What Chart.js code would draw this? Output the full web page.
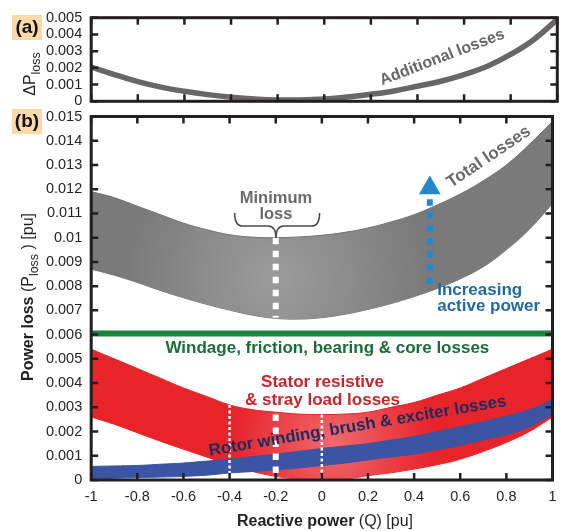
<!DOCTYPE html>
<html><head><meta charset="utf-8">
<script src="https://cdn.jsdelivr.net/npm/chart.js@4.4.0/dist/chart.umd.min.js"></script>
<style>
html,body{margin:0;padding:0;background:#fff;}
#wrap{position:relative;width:565px;height:531px;}
canvas{position:absolute;left:0;top:0;}
</style></head><body>
<div id="wrap"><canvas id="ca" width="565" height="531"></canvas><canvas id="cb" width="565" height="531"></canvas></div>
<script>
// ---------- data ----------
const Q = [-1,-0.9,-0.8,-0.7,-0.6,-0.5,-0.4,-0.3,-0.2,-0.1,0,0.1,0.2,0.3,0.4,0.5,0.6,0.7,0.8,0.9,1];
const additionalLosses = [0.00205,0.0016,0.00118,0.00085,0.0006,0.0004,0.00025,0.00014,0.00008,0.00008,0.00014,0.00026,0.00042,0.00062,0.0009,0.0012,0.0016,0.0021,0.0028,0.0037,0.0049];
const totalLossTop = [0.0119,0.01165,0.0113,0.01095,0.0106,0.01033,0.01012,0.01002,0.01,0.01003,0.0101,0.01022,0.0104,0.01065,0.01095,0.01135,0.0118,0.01235,0.013,0.01385,0.0148];
const totalLossBottom = [0.0087,0.00845,0.00815,0.00782,0.00752,0.00725,0.00701,0.0068,0.00667,0.00664,0.0067,0.00684,0.00704,0.00728,0.00757,0.0079,0.0083,0.0088,0.0095,0.01035,0.0114];
const statorTop = [0.0054,0.0050,0.0046,0.0042,0.0038,0.00345,0.0031,0.0029,0.0028,0.00272,0.0027,0.00272,0.0028,0.0030,0.0032,0.0035,0.0038,0.0042,0.0046,0.0050,0.0054];
const statorBottom = [0.0026,0.0023,0.00195,0.0016,0.00127,0.00095,0.00062,0.00035,0.00015,0.00004,0,0.00004,0.00018,0.0003,0.00045,0.00063,0.00086,0.00118,0.00155,0.002,0.0026];
const rotorTop = [0.00056,0.00058,0.0006,0.00065,0.0007,0.00078,0.00086,0.00096,0.00107,0.00118,0.0013,0.0014,0.0015,0.00165,0.0018,0.002,0.0022,0.0024,0.00264,0.0029,0.0033];
const rotorBottom = [0.00004,0.00007,0.0001,0.00012,0.00015,0.0002,0.00029,0.00035,0.00042,0.0005,0.0006,0.0007,0.00083,0.00095,0.00107,0.00125,0.00143,0.00165,0.00187,0.0022,0.0027];
const mechQ = [-1, 1];
const mechLoss = [0.00605, 0.00605];
const minLossQ = -0.2;
const minDashTotal = [0.0100, 0.0067];
const minDashStator = [0.0027, 0];
const dotQ = [-0.4, 0];
const dotStator = [[0.0031, 0], [0.0027, 0]];
const arrowQ = 0.468;
const arrowShaft = [0.0081, 0.0117];
const arrowTip = 0.01205;
const xTicks = [-1,-0.8,-0.6,-0.4,-0.2,0,0.2,0.4,0.6,0.8,1];
const yTicksA = [0,0.001,0.002,0.003,0.004,0.005];
const yTicksB = [0,0.001,0.002,0.003,0.004,0.005,0.006,0.007,0.008,0.009,0.01,0.011,0.012,0.013,0.014,0.015];

// ---------- helpers ----------
const fam = '"Liberation Sans", Arial, Helvetica, sans-serif';
Chart.defaults.font.family = fam;
Chart.defaults.color = '#231f20';
const pts = (xs, ys) => xs.map((x,i)=>({x, y: ys[i]}));
const fmt = v => String(+Number(v).toFixed(3));
const fmtX = v => String(+Number(v).toFixed(1));

function txt(ctx, s, x, y, o){
  ctx.save(); ctx.translate(x,y); ctx.rotate((o.angle||0)*Math.PI/180);
  ctx.font = o.font; ctx.fillStyle = o.color; ctx.textAlign = o.align||'center'; ctx.textBaseline = 'middle';
  ctx.fillText(s,0,0); ctx.restore();
}
function mixed(ctx, parts, x, y, angle){
  ctx.save(); ctx.translate(x,y); ctx.rotate(angle*Math.PI/180);
  ctx.textBaseline='alphabetic'; ctx.textAlign='left';
  let w=0; for(const p of parts){ctx.font=p.font; w+=ctx.measureText(p.t).width;}
  let cx=-w/2;
  for(const p of parts){ctx.font=p.font; ctx.fillStyle='#231f20'; ctx.fillText(p.t,cx,p.dy||0); cx+=ctx.measureText(p.t).width;}
  ctx.restore();
}
function radial(q0, v0, r, inner, outer){
  return (c) => {
    const ch = c.chart; if(!ch.chartArea) return outer;
    const x = ch.scales.x.getPixelForValue(q0), y = ch.scales.y.getPixelForValue(v0);
    const g = ch.ctx.createRadialGradient(x,y,0,x,y,r);
    g.addColorStop(0, inner); g.addColorStop(1, outer); return g;
  };
}

const framePlugin = {
  id:'frame',
  afterDatasetsDraw(chart){
    const {ctx, chartArea:{left,right,top,bottom}, scales:{x,y}} = chart;
    ctx.save();
    ctx.strokeStyle='#231f20'; ctx.lineWidth=2.5;
    ctx.beginPath();
    for(const v of xTicks){ const p=x.getPixelForValue(v); ctx.moveTo(p,bottom); ctx.lineTo(p,bottom-7); ctx.moveTo(p,top); ctx.lineTo(p,top+7); }
    for(const t of y.ticks){ const p=y.getPixelForValue(t.value); ctx.moveTo(left,p); ctx.lineTo(left+7,p); ctx.moveTo(right,p); ctx.lineTo(right-7,p); }
    ctx.stroke();
    ctx.lineWidth=3; ctx.strokeRect(left,top,right-left,bottom-top);
    ctx.restore();
  }
};

function panelTag(ctx, s, x, y){
  ctx.save(); ctx.fillStyle='#fcd9a8'; ctx.fillRect(x, y, 30, 25);
  ctx.font = `bold 19px ${fam}`; ctx.fillStyle='#111'; ctx.textAlign='center'; ctx.textBaseline='middle';
  ctx.fillText(s, x+15, y+13); ctx.restore();
}

const labelsA = [
  {t:'Additional losses', q:0.506, v:0.00262, angle:-21, font:`bold 16px ${fam}`, color:'#676767'}
];
const labelsB = [
  {t:'Total losses', q:0.724, v:0.01333, angle:-34, font:`bold 17px ${fam}`, color:'#6a6a6a'},
  {t:'Minimum', q:-0.199, v:0.0116, font:`bold 16.5px ${fam}`, color:'#6a6a6a'},
  {t:'loss', q:-0.199, v:0.01094, font:`bold 16.5px ${fam}`, color:'#6a6a6a'},
  {t:'Windage, friction, bearing & core losses', q:0.024, v:0.00545, font:`bold 17px ${fam}`, color:'#1b6d38'},
  {t:'Stator resistive', q:0.003, v:0.00402, font:`bold 17px ${fam}`, color:'#c7252c'},
  {t:'& stray load losses', q:0.003, v:0.0033, font:`bold 17px ${fam}`, color:'#c7252c'},
  {t:'Rotor winding, brush & exciter losses', q:0.155, v:0.00222, angle:-9.5, font:`bold 16.8px ${fam}`, color:'#1d2b5e'},
  {t:'Increasing', q:0.5, v:0.00784, align:'left', font:`bold 17px ${fam}`, color:'#1f6aa5'},
  {t:'active power', q:0.5, v:0.00715, align:'left', font:`bold 17px ${fam}`, color:'#1f6aa5'}
];

const labelPluginA = {
  id:'labA',
  afterDraw(chart){
    const {ctx, scales:{x,y}} = chart;
    for(const l of labelsA) txt(ctx, l.t, x.getPixelForValue(l.q), y.getPixelForValue(l.v), l);
    panelTag(ctx, '(a)', 12, 15);
    mixed(ctx, [{t:'ΔP', font:`16px ${fam}`}, {t:'loss', font:`12.5px ${fam}`, dy:5}], 35, 74, -90);
  }
};
const labelPluginB = {
  id:'labB',
  afterDraw(chart){
    const {ctx, scales:{x,y}} = chart;
    for(const l of labelsB) txt(ctx, l.t, x.getPixelForValue(l.q), y.getPixelForValue(l.v), l);
    const L=x.getPixelForValue(-0.378), R=x.getPixelForValue(-0.01), C=x.getPixelForValue(-0.199);
    const yT=y.getPixelForValue(0.01102), yM=y.getPixelForValue(0.01048), yP=y.getPixelForValue(0.00999);
    ctx.save(); ctx.strokeStyle='#4a4a4a'; ctx.lineWidth=1.6; ctx.beginPath();
    ctx.moveTo(L,yT); ctx.quadraticCurveTo(L,yM,L+8,yM); ctx.lineTo(C-8,yM); ctx.quadraticCurveTo(C,yM,C,yP);
    ctx.moveTo(R,yT); ctx.quadraticCurveTo(R,yM,R-8,yM); ctx.lineTo(C+8,yM); ctx.quadraticCurveTo(C,yM,C,yP);
    ctx.stroke(); ctx.restore();
    panelTag(ctx, '(b)', 12, 109);
    mixed(ctx, [{t:'Power loss', font:`bold 16px ${fam}`}, {t:' (P', font:`16px ${fam}`}, {t:'loss', font:`12.5px ${fam}`, dy:5}, {t:' ) [pu]', font:`16px ${fam}`}], 33, 297, -90);
    mixed(ctx, [{t:'Reactive power', font:`bold 16px ${fam}`}, {t:' (Q) [pu]', font:`16px ${fam}`}], 325, 526, 0);
  }
};

const noLegend = {legend:{display:false}, tooltip:{enabled:false}};
const yAxis = (ticksArr, max) => ({
  type:'linear', min:0, max,
  afterBuildTicks: s => { s.ticks = ticksArr.map(v=>({value:v})); },
  afterFit: s => { s.width = 91.2; },
  grid:{display:false, drawTicks:false}, border:{display:false},
  ticks:{padding:9, font:{size:14.5}, color:'#231f20', autoSkip:false, callback: v => fmt(v)}
});

// ---------- panel (a) ----------
new Chart(document.getElementById('ca'), {
  type:'line',
  data:{datasets:[{data: pts(Q, additionalLosses), borderColor:'#676767', borderWidth:5.5, pointRadius:0, tension:0.4, fill:false, clip:0}]},
  options:{
    responsive:false, animation:false,
    layout:{padding:{left:0, top:14.2, right:7.7, bottom:531-101.3}},
    scales:{
      x:{type:'linear', min:-1, max:1, display:false},
      y: yAxis(yTicksA, 0.005)
    },
    plugins: noLegend
  },
  plugins:[framePlugin, labelPluginA]
});

// ---------- panel (b) ----------
const band = (arr, color, extra) => Object.assign({data: pts(Q, arr), pointRadius:0, borderWidth:1, borderColor:color, tension:0.4}, extra||{});
new Chart(document.getElementById('cb'), {
  type:'line',
  data:{datasets:[
    {data:[{x:minLossQ,y:minDashTotal[0]},{x:minLossQ,y:minDashTotal[1]}], borderColor:'#ffffff', borderWidth:6, borderDash:[6.5,6.5], pointRadius:0, fill:false, order:0},
    {data:[{x:minLossQ,y:minDashStator[0]},{x:minLossQ,y:minDashStator[1]}], borderColor:'#ffffff', borderWidth:6, borderDash:[6.5,6.5], pointRadius:0, fill:false, order:0},
    {data:[{x:dotQ[0],y:dotStator[0][0]},{x:dotQ[0],y:dotStator[0][1]}], borderColor:'#ffffff', borderWidth:2.5, borderDash:[3,2.5], pointRadius:0, fill:false, order:0},
    {data:[{x:dotQ[1],y:dotStator[1][0]},{x:dotQ[1],y:dotStator[1][1]}], borderColor:'#ffffff', borderWidth:2.5, borderDash:[3,2.5], pointRadius:0, fill:false, order:0},
    {data:[{x:arrowQ,y:arrowShaft[0]},{x:arrowQ,y:arrowShaft[1]}], borderColor:'#2389cb', borderWidth:6, borderDash:[6.5,6.5], pointRadius:0, fill:false, order:0},
    {data:[{x:arrowQ,y:arrowTip}], showLine:false, pointStyle:'triangle', pointRadius:12.5, pointBackgroundColor:'#2389cb', pointBorderWidth:0, order:0},
    band(rotorTop, '#3b54a4', {fill:'+1', backgroundColor:'#3b54a4', order:1}),
    band(rotorBottom, '#3b54a4', {fill:false, order:1}),
    band(statorTop, '#e6232a', {fill:'+1', backgroundColor: radial(0.05, 0.0015, 100, '#f06a6e', '#e8242b'), order:2}),
    band(statorBottom, '#e6232a', {fill:false, order:2}),
    {data: pts(mechQ, mechLoss), borderColor:'#18843c', borderWidth:6, pointRadius:0, fill:false, order:2},
    band(totalLossTop, '#707070', {fill:'+1', backgroundColor: radial(-0.2, 0.0083, 150, '#9c9c9c', '#7a7a7a'), order:3}),
    band(totalLossBottom, '#707070', {fill:false, order:3})
  ]},
  options:{
    responsive:false, animation:false,
    layout:{padding:{left:0, top:116.5, right:7.7, bottom:0}},
    scales:{
      x:{type:'linear', min:-1, max:1,
        afterBuildTicks: s => { s.ticks = xTicks.map(v=>({value:v})); },
        afterFit: s => { s.height = 51; },
        grid:{display:false, drawTicks:false}, border:{display:false},
        ticks:{padding:8, font:{size:14.5}, color:'#231f20', autoSkip:false, maxRotation:0, callback: v => fmtX(v)}},
      y: yAxis(yTicksB, 0.015)
    },
    plugins: noLegend
  },
  plugins:[framePlugin, labelPluginB]
});
</script>
</body></html>
